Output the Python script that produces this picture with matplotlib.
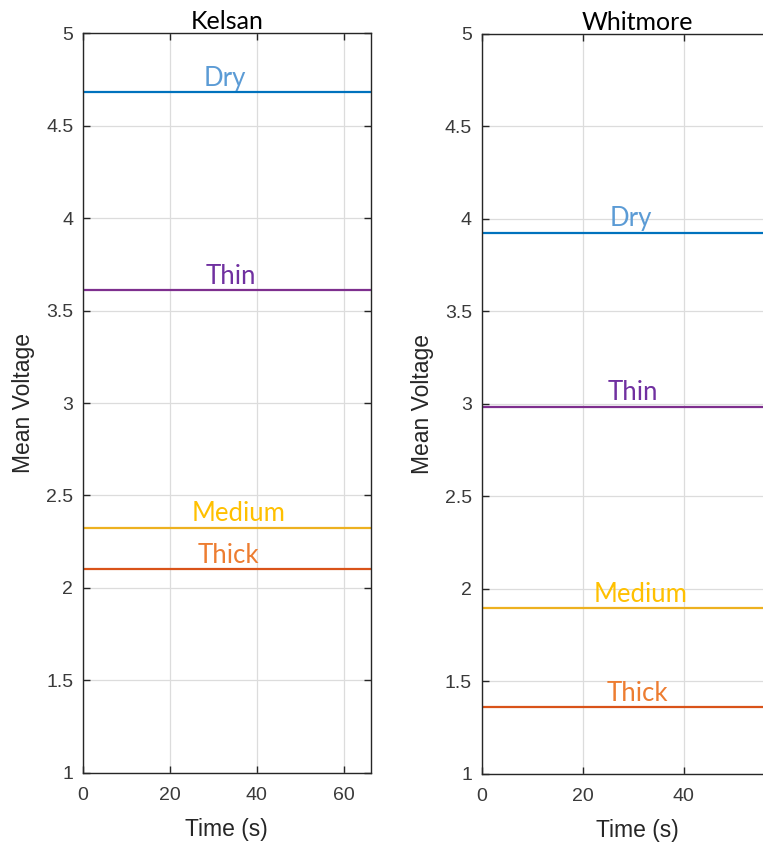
import matplotlib.pyplot as plt

# mean voltage per lubrication condition, one set per product
conditions = ["Dry", "Thin", "Medium", "Thick"]
kelsan_voltage = [4.68, 3.61, 2.325, 2.10]
whitmore_voltage = [3.925, 2.985, 1.895, 1.36]

# where each condition label sits along the time axis
kelsan_label_x = [32.7, 34.1, 35.9, 33.4]
whitmore_label_x = [29.6, 30.0, 31.4, 30.8]

kelsan_xlim = (0, 66.2)
whitmore_xlim = (0, 61.8)
kelsan_xticks = [0, 20, 40, 60]
whitmore_xticks = [0, 20, 40]

line_colors = ["#0072BD", "#7E2F8E", "#EDB120", "#D95319"]
label_colors = ["#5B9BD5", "#7030A0", "#FFC000", "#ED7D31"]

AX_COLOR = "#262626"
TICK_FONT = "Liberation Sans"
NOTE_FONT = ["Lato", "DejaVu Sans"]


def draw_panel(ax, title, voltages, label_x, xlim, xticks):
    for name, v, lx, lc, tc in zip(conditions, voltages, label_x,
                                   line_colors, label_colors):
        ax.plot(xlim, [v, v], color=lc, linewidth=1.6)
        ax.annotate(name, xy=(lx, v), xytext=(0, 1),
                    textcoords="offset points", ha="center", va="bottom",
                    color=tc, fontsize=18.5, family=NOTE_FONT)

    ax.set_xlim(*xlim)
    ax.set_ylim(1, 5)
    ax.set_xticks(xticks)
    ax.set_yticks([1, 1.5, 2, 2.5, 3, 3.5, 4, 4.5, 5])
    ax.set_yticklabels(["1", "1.5", "2", "2.5", "3", "3.5", "4", "4.5", "5"])
    ax.grid(True, color="#dcdcdc", linewidth=0.9)
    ax.set_axisbelow(True)
    ax.tick_params(direction="in", length=5, width=1, colors=AX_COLOR,
                   top=True, right=True, labelsize=14)
    ax.tick_params(axis="x", pad=10)
    ax.tick_params(axis="y", pad=7)
    for lbl in ax.get_xticklabels() + ax.get_yticklabels():
        lbl.set_family(TICK_FONT)
        lbl.set_color("#3a3a3a")
    for sp in ax.spines.values():
        sp.set_color(AX_COLOR)
        sp.set_linewidth(1)

    ax.set_title(title, fontsize=18, family=NOTE_FONT, color="black", pad=3)
    ax.set_xlabel("Time (s)", fontsize=16.5, family=TICK_FONT,
                  color=AX_COLOR, labelpad=10)
    ax.set_ylabel("Mean Voltage", fontsize=16.5, family=TICK_FONT,
                  color=AX_COLOR, labelpad=8)


fig = plt.figure(figsize=(7.63, 8.47), dpi=100)
ax_left = fig.add_axes([0.1088, 0.0874, 0.377, 0.8736])
ax_right = fig.add_axes([0.6313, 0.0862, 0.4093, 0.8737])

draw_panel(ax_left, "Kelsan", kelsan_voltage, kelsan_label_x, kelsan_xlim,
           kelsan_xticks)
draw_panel(ax_right, "Whitmore", whitmore_voltage, whitmore_label_x,
           whitmore_xlim, whitmore_xticks)

fig.savefig("out.png", dpi=100)
